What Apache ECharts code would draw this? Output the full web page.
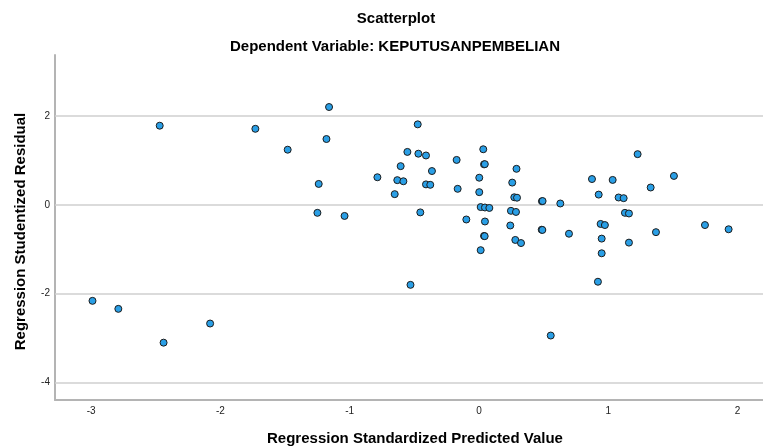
<!DOCTYPE html>
<html lang="en">
  <head>
    <meta charset="UTF-8" />
    <title>Scatterplot</title>
    <style>
      html, body { margin: 0; padding: 0; background: #fff; }
      #container { width: 763px; height: 447px; }
    </style>
    <script src="https://cdn.jsdelivr.net/npm/echarts@6.0.0/dist/echarts.min.js"></script>
  </head>
  <body>
    <div id="container"></div>
    <script>
      // predicted (x) and studentized residual (y)
      const predicted = [
        -2.99, -2.79, -2.44, -2.08, -2.47, -1.73, -1.48, -1.16, -1.18, -1.24, -1.25, -1.04,
        -0.786, -0.652, -0.632, -0.585, -0.606, -0.554, -0.474, -0.469, -0.41, -0.364, -0.41, -0.377, -0.454, -0.53,
        -0.173, -0.165, -0.098, 0.033, 0.039, 0.045, 0.002, 0.002, 0.013, 0.046, 0.08, 0.046, 0.039, 0.044, 0.013,
        0.29, 0.257, 0.273, 0.294, 0.247, 0.286, 0.242, 0.281, 0.325,
        0.487, 0.492, 0.485, 0.49, 0.555, 0.629, 0.696,
        0.874, 0.926, 0.92, 0.941, 0.974, 0.949, 0.949, 1.034, 1.08, 1.119, 1.129, 1.16, 1.16,
        1.227, 1.328, 1.369, 1.508, 1.748, 1.931
      ]
      const residual = [
        -2.16, -2.34, -3.1, -2.67, 1.78, 1.71, 1.24, 2.2, 1.48, 0.47, -0.18, -0.25,
        0.62, 0.24, 0.555, 0.53, 0.87, 1.19, 1.81, 1.15, 1.11, 0.76, 0.46, 0.45, -0.17, -1.8,
        1.01, 0.36, -0.33, 1.25, 0.91, 0.915, 0.61, 0.285, -0.05, -0.06, -0.07, -0.375, -0.7, -0.705, -1.02,
        0.81, 0.5, 0.17, 0.16, -0.135, -0.16, -0.465, -0.79, -0.86,
        0.08, 0.085, -0.56, -0.565, -2.94, 0.03, -0.65,
        0.58, 0.23, -1.73, -0.43, -0.455, -0.76, -1.09, 0.56, 0.165, 0.15, -0.18, -0.195, -0.85,
        1.14, 0.39, -0.615, 0.65, -0.455, -0.55
      ]
      const xTicks = [-3, -2, -1, 0, 1, 2]
      const yTicks = [-4, -2, 0, 2]

      const chart = echarts.init(document.getElementById('container'))
      const font = 'Liberation Sans'

      chart.setOption({
        animation: false,
        title: [
          {
            text: 'Scatterplot',
            left: 391,
            top: 6,
            textAlign: 'center',
            textStyle: { fontFamily: font, fontSize: 15, fontWeight: 'bold', color: '#000' },
          },
          {
            text: 'Dependent Variable: KEPUTUSANPEMBELIAN',
            left: 390,
            top: 34,
            textAlign: 'center',
            textStyle: { fontFamily: font, fontSize: 15, fontWeight: 'bold', color: '#000' },
          },
        ],
        grid: { left: 55, right: 0, top: 55, bottom: 47, containLabel: false, outerBoundsMode: 'none' },
        xAxis: {
          type: 'value',
          min: -3.28,
          max: 2.197,
          name: 'Regression Standardized Predicted Value',
          nameLocation: 'middle',
          nameGap: 31,
          nameTextStyle: { fontFamily: font, fontSize: 15, fontWeight: 'bold', color: '#000', padding: [0, 0, 0, 12] },
          axisLine: { onZero: false, lineStyle: { color: '#b4b4b4', width: 2 } },
          axisTick: { show: false },
          splitLine: { show: false },
          axisLabel: {
            customValues: xTicks,
            fontFamily: font,
            fontSize: 10,
            color: '#222',
            margin: 6,
          },
        },
        yAxis: {
          type: 'value',
          min: -4.39,
          max: 3.37,
          name: 'Regression Studentized Residual',
          nameLocation: 'middle',
          nameGap: 27,
          nameTextStyle: { fontFamily: font, fontSize: 15, fontWeight: 'bold', color: '#000', padding: [0, 8, 0, 0] },
          axisLine: { show: true, onZero: false, lineStyle: { color: '#b4b4b4', width: 2 } },
          axisTick: { show: false, customValues: yTicks },
          splitLine: { show: false },
          axisLabel: {
            customValues: yTicks,
            fontFamily: font,
            fontSize: 10,
            color: '#222',
            margin: 5,
          },
        },
        series: [
          {
            type: 'scatter',
            symbolSize: 7,
            data: predicted.map((x, i) => [x, residual[i]]),
            itemStyle: { color: '#2a9fe6', borderColor: '#1b1b1b', borderWidth: 1, opacity: 1 },
            markLine: {
              silent: true,
              symbol: 'none',
              label: { show: false },
              lineStyle: { color: '#cfcfcf', width: 1.5, type: 'solid' },
              data: yTicks.map((v) => ({ yAxis: v })),
              z: 1,
            },
          },
        ],
      })
    </script>
  </body>
</html>
